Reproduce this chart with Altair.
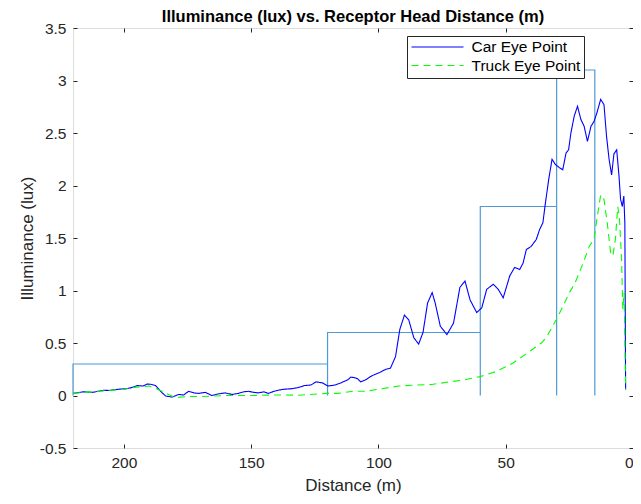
import altair as alt
import pandas as pd

# ---- data ----
step_d = [220, 220, 120, 120, 120, 60, 60, 60, 30, 30, 30, 15, 15]
step_v = [0, 0.3, 0.3, 0, 0.6, 0.6, 0, 1.8, 1.8, 0, 3.1, 3.1, 0]

car_d = [220, 216, 212.3, 208, 205.8, 202, 199.3, 197, 194.7, 192.5, 190.8, 189, 187.6,
         185.6, 183.6, 181.1, 178.5, 176.5, 174.6, 172.5, 170.6, 168, 165.5, 163, 160.2,
         157.5, 155, 153, 151.1, 149, 147.2, 145, 143.3, 141, 139.4, 137, 134.3, 131.6,
         129, 126.5, 124.5, 122, 119.9, 117, 114.8, 112, 110.9, 109.5, 108.2, 107, 105,
         103.1, 101.5, 99.8, 97.2, 95.3, 93.3, 91.6, 89.8, 88.1, 86.1, 84.2, 82.5, 80.7,
         78.9, 77.7, 75.7, 73.1, 70.5, 68.0, 66.0, 64.0, 61.4, 59.4, 57.5, 54.9, 52.9,
         51.0, 48.4, 46.5, 44.5, 43.2, 41.9, 40, 38.0, 36.7, 35.4, 34.4, 33.1, 31.8, 30.5,
         28.9, 27.6, 26.3, 25.3, 24.4, 23.1, 21.8, 20.5, 19.2, 17.9, 16.5, 15.3, 14.2,
         12.7, 11.4, 10.4, 9.4, 8.4, 7.5, 6.4, 5.5, 4.9, 4.2, 3.6, 3.2, 2.9]
car_v = [0.02, 0.035, 0.03, 0.05, 0.048, 0.06, 0.064, 0.075, 0.095, 0.09, 0.11, 0.105, 0.095,
         0.04, -0.005, -0.015, 0.01, 0.005, 0.04, 0.025, 0.02, 0.03, 0.0, 0.015, 0.025,
         0.01, 0.02, 0.035, 0.04, 0.03, 0.025, 0.035, 0.02, 0.04, 0.05, 0.06, 0.064, 0.075,
         0.095, 0.1, 0.13, 0.12, 0.09, 0.1, 0.12, 0.15, 0.175, 0.17, 0.16, 0.13, 0.15,
         0.18, 0.2, 0.216, 0.248, 0.26, 0.37, 0.63, 0.765, 0.72, 0.55, 0.49, 0.6, 0.88,
         0.98, 0.88, 0.66, 0.58, 0.69, 1.03, 1.09, 0.91, 0.79, 0.835, 1.01, 1.06, 1.01,
         0.93, 1.14, 1.22, 1.2, 1.26, 1.39, 1.42, 1.486, 1.58, 1.645, 1.835, 2.06, 2.25, 2.2,
         2.17, 2.15, 2.31, 2.34, 2.5, 2.66, 2.755, 2.63, 2.565, 2.42, 2.565, 2.61, 2.69,
         2.82, 2.77, 2.47, 2.25, 2.1, 2.3, 2.34, 2.09, 1.87, 1.8, 1.9, 1.64, 0.057]

truck_d = [220, 210, 200, 195, 190, 185, 180, 175, 170, 160, 150, 140, 131.6, 120, 116, 110,
           105, 100, 92, 85, 79, 72, 66, 60, 53.6, 47.1, 40.6, 36, 34.1, 30.2, 27.5, 25, 23,
           21.1, 19, 17.2, 15.3, 14.0, 12.7, 11.4, 10.1, 8.8, 7.9, 6.9, 6.0, 5.3, 4.5, 4.0,
           3.5, 2.9]
truck_v = [0.02, 0.04, 0.06, 0.08, 0.09, 0.04, -0.02, -0.01, -0.01, 0.0, 0.0, 0.005, 0.003,
           0.02, 0.02, 0.04, 0.04, 0.06, 0.09, 0.1, 0.105, 0.13, 0.15, 0.18, 0.23, 0.31, 0.42,
           0.5, 0.55, 0.72, 0.85, 0.98, 1.06, 1.17, 1.3, 1.42, 1.49, 1.71, 1.91, 1.87, 1.64,
           1.36, 1.33, 1.49, 1.8, 1.68, 1.3, 0.82, 0.98, 0.057]

series_names = ["Car Eye Point", "Truck Eye Point"]
series_colors = ["#0000ff", "#00ff00"]
x_ticks = [0, 50, 100, 150, 200]
y_ticks = [-0.5, 0, 0.5, 1, 1.5, 2, 2.5, 3, 3.5]

# ---- tables ----
steps = pd.DataFrame({"d": step_d, "v": step_v, "i": list(range(len(step_d)))})
lines = pd.concat([
    pd.DataFrame({"d": car_d, "v": car_v, "series": series_names[0]}),
    pd.DataFrame({"d": truck_d, "v": truck_v, "series": series_names[1]}),
], ignore_index=True)

FONT = "Liberation Sans"
AX = "#262626"

xscale = alt.Scale(domain=[0, 220], reverse=True, nice=False, zero=False)
yscale = alt.Scale(domain=[-0.5, 3.5], nice=False, zero=False)

tick_common = dict(tickSize=4, offset=-4, domain=False, grid=False, tickColor=AX,
                   tickWidth=1)

step_layer = alt.Chart(steps).mark_line(color="#4d9ad6", strokeWidth=1.2).encode(
    x=alt.X("d:Q", scale=xscale,
            axis=alt.Axis(orient="bottom", values=x_ticks, title="Distance (m)",
                          labelPadding=7, labelFont=FONT, labelFontSize=15.5,
                          labelColor=AX, titleFont=FONT, titleFontSize=17,
                          titleFontWeight="normal", titleColor=AX, titlePadding=7,
                          **tick_common)),
    y=alt.Y("v:Q", scale=yscale,
            axis=alt.Axis(orient="left", values=y_ticks, title="Illuminance (lux)",
                          labelExpr="datum.value + ''", labelPadding=7,
                          labelFont=FONT, labelFontSize=15.5, labelColor=AX,
                          titleFont=FONT, titleFontSize=17, titleFontWeight="normal",
                          titleColor=AX, titlePadding=3, **tick_common)),
    order="i:O",
)

legend = alt.Legend(title=None, orient="none", legendX=334, legendY=8,
                    symbolType="stroke", symbolSize=2704, symbolStrokeWidth=1.2,
                    clipHeight=15, rowPadding=2.5, labelFont=FONT, labelFontSize=15.5,
                    labelColor="#000000", labelOffset=7, strokeColor=AX,
                    fillColor="#ffffff", padding=3.5, cornerRadius=0)

series_layer = alt.Chart(lines).mark_line(strokeWidth=1.1).encode(
    x=alt.X("d:Q", scale=xscale,
            axis=alt.Axis(orient="top", values=x_ticks, labels=False, title=None,
                          **tick_common)),
    y=alt.Y("v:Q", scale=yscale,
            axis=alt.Axis(orient="right", values=y_ticks, labels=False, title=None,
                          **tick_common)),
    color=alt.Color("series:N", scale=alt.Scale(domain=series_names, range=series_colors),
                    legend=legend),
    strokeDash=alt.StrokeDash("series:N",
                              scale=alt.Scale(domain=series_names, range=[[1, 0], [7, 5]]),
                              legend=legend),
)

chart = alt.layer(step_layer, series_layer).resolve_axis(
    x="independent", y="independent"
).properties(
    width=560,
    height=420,
    title=alt.TitleParams("Illuminance (lux) vs. Receptor Head Distance (m)",
                          font=FONT, fontSize=16.5, fontWeight="bold", color="#000000",
                          anchor="middle", offset=2, dy=6),
    autosize=alt.AutoSizeParams(type="none"),
    padding={"left": 65, "top": 20, "right": 0, "bottom": 48},
).configure_view(stroke=AX, strokeWidth=1).configure(background="#ffffff")

chart.save("out.html", embed_options={"renderer": "svg", "actions": False})
